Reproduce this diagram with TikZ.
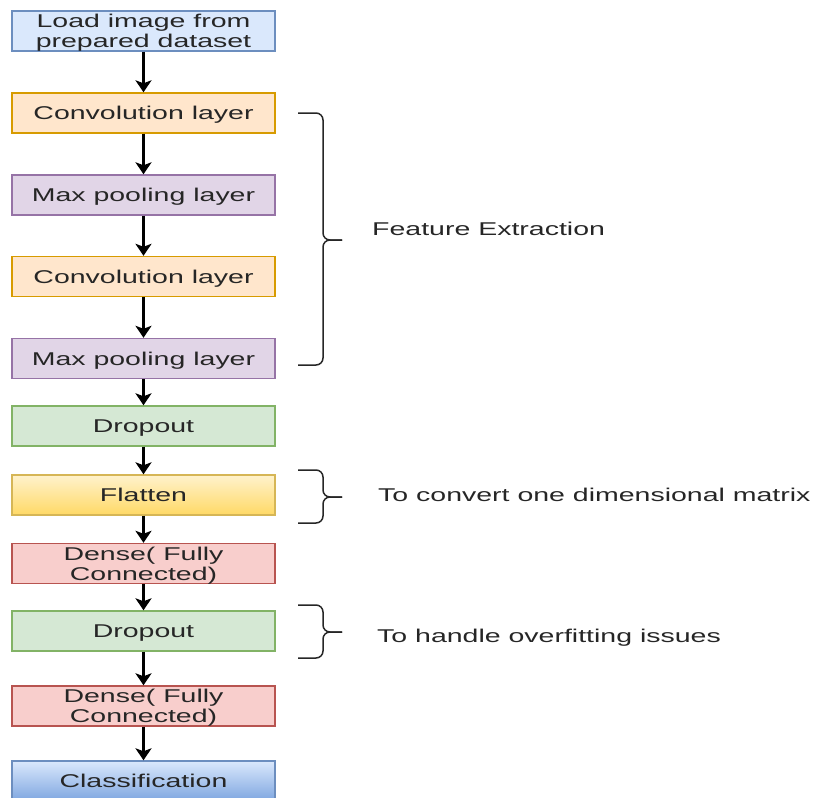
\documentclass[tikz,border=0pt]{standalone}
\usepackage{fontspec}
\setmainfont{Liberation Sans}[FakeStretch=1.54]
\usepackage{xcolor}
\usepackage{tikz}
\usetikzlibrary{positioning, arrows.meta}

\definecolor{blueline}{RGB}{108,142,191}
\definecolor{bluefill}{RGB}{218,232,252}
\definecolor{bluedark}{RGB}{126,166,224}
\definecolor{convline}{RGB}{215,155,0}
\definecolor{convfill}{RGB}{255,230,204}
\definecolor{poolline}{RGB}{150,115,166}
\definecolor{poolfill}{RGB}{225,213,231}
\definecolor{dropline}{RGB}{130,179,102}
\definecolor{dropfill}{RGB}{213,232,212}
\definecolor{denseline}{RGB}{184,84,80}
\definecolor{densefill}{RGB}{248,206,204}
\definecolor{flatline}{RGB}{214,182,86}
\definecolor{flattop}{RGB}{255,242,204}
\definecolor{flatbot}{RGB}{255,217,102}

\begin{document}
\begin{tikzpicture}[
        x=1pt, y=-1pt,
        font=\fontsize{18.5}{20}\selectfont,
        layer/.style={draw=#1, line width=1.4pt, minimum width=263pt, minimum height=40pt, inner sep=0pt, text depth=0pt, align=center, text=black!85},
        blue box/.style={layer=blueline, fill=bluefill},
        conv box/.style={layer=convline, fill=convfill},
        pool box/.style={layer=poolline, fill=poolfill},
        drop box/.style={layer=dropline, fill=dropfill},
        dense box/.style={layer=denseline, fill=densefill},
        flat box/.style={layer=flatline, top color=flattop, bottom color=flatbot},
        class box/.style={layer=blueline, top color=bluefill, bottom color=bluedark},
        flow/.style={-{Stealth[length=12pt, width=16pt, inset=3pt]}, line width=2.2pt},
        bracket/.style={line width=1.5pt, rounded corners=7pt, draw=black!85},
        note/.style={anchor=west, text=black!85, inner sep=0pt},
    ]
    \useasboundingbox (0,0) rectangle (817,798);

    % ---- Layers ----
    \node[blue box] (load) at (143.5,31) {Load image from\\prepared dataset};
    \node[conv box] (conv1) at (143.5,113) {Convolution layer};
    \node[pool box] (pool1) at (143.5,195) {Max pooling layer};
    \node[conv box] (conv2) at (143.5,276.5) {Convolution layer};
    \node[pool box] (pool2) at (143.5,358.5) {Max pooling layer};
    \node[drop box] (drop1) at (143.5,426) {Dropout};
    \node[flat box] (flat) at (143.5,495) {Flatten};
    \node[dense box] (dense1) at (143.5,563.5) {Dense( Fully\\Connected)};
    \node[drop box] (drop2) at (143.5,631) {Dropout};
    \node[dense box] (dense2) at (143.5,706) {Dense( Fully\\Connected)};
    \node[class box] (cls) at (143.5,781) {Classification};

    % ---- Arrows ----
    \foreach \a/\b in {load/conv1, conv1/pool1, pool1/conv2, conv2/pool2, pool2/drop1, drop1/flat, flat/dense1, dense1/drop2, drop2/dense2, dense2/cls}
        \draw[flow] (\a.south) -- (\b.north);

    % ---- Brackets ----
    \coordinate (fe tip) at (342,240);
    \draw[bracket] (298,113) -- (323,113) -- (323,240) -- (fe tip);
    \draw[bracket] (fe tip) -- (323,240) -- (323,365) -- (298,365);
    \coordinate (fl tip) at (342,497);
    \draw[bracket] (298,470) -- (323,470) -- (323,497) -- (fl tip);
    \draw[bracket] (fl tip) -- (323,497) -- (323,523) -- (298,523);
    \coordinate (dr tip) at (342,632);
    \draw[bracket] (298,605) -- (323,605) -- (323,632) -- (dr tip);
    \draw[bracket] (dr tip) -- (323,632) -- (323,658) -- (298,658);

    % ---- Notes ----
    \node[note] (fe) at (372,229) {Feature Extraction};
    \node[note] (fl) at (378,495) {To convert one dimensional matrix};
    \node[note] (dr) at (377,638) {To handle overfitting issues};
\end{tikzpicture}
\end{document}
